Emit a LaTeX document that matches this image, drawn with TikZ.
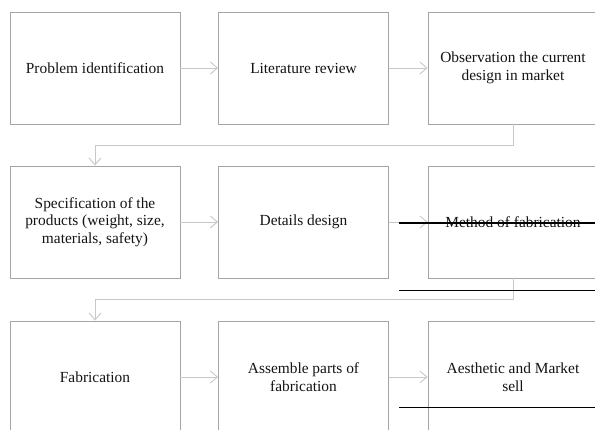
\documentclass[tikz,border=0pt]{standalone}
\usepackage{fontspec}
\setmainfont{Liberation Serif}
\usetikzlibrary{arrows.meta}
\definecolor{boxgray}{RGB}{165,165,165}
\definecolor{arrgray}{RGB}{200,200,200}
\definecolor{txt}{RGB}{20,20,20}
\tikzset{
  stepbox/.style={draw=boxgray, line width=0.9pt, rectangle, minimum width=170pt, minimum height=112pt,
    align=center, text=txt, inner sep=0pt, font=\fontsize{15.4}{17.7}\selectfont},
  arr/.style={draw=arrgray, line width=0.9pt, -{Straight Barb[length=7pt,width=12pt]}},
  blackline/.style={draw=black, line width=1.6pt}
}
\begin{document}
\begin{tikzpicture}[x=1pt,y=-1pt]
\clip (0,0) rectangle (595,430);
\fill[white] (0,0) rectangle (595,430);
\node[stepbox] (b1) at (95,68) {Problem identification};
\node[stepbox] (b2) at (303.5,68) {Literature review};
\node[stepbox] (b3) at (513,68) {Observation the current\\design in market};
\node[stepbox] (b4) at (95,222) {Specification of the\\products (weight, size,\\materials, safety)};
\node[stepbox] (b5) at (303.5,222) {Details design};
\node[stepbox] (b6) at (513,222) {Method of fabrication};
\node[stepbox] (b7) at (95,377) {Fabrication};
\node[stepbox] (b8) at (303.5,377) {Assemble parts of\\fabrication};
\node[stepbox] (b9) at (513,377) {Aesthetic and Market\\sell};
\draw[arr] (b1.east) -- (b2.west);
\draw[arr] (b2.east) -- (b3.west);
\draw[arr] (b3.south) -- ++(0,21) -| (b4.north);
\draw[arr] (b4.east) -- (b5.west);
\draw[arr] (b5.east) -- (b6.west);
\draw[arr] (b6.south) -- ++(0,21) -| (b7.north);
\draw[arr] (b7.east) -- (b8.west);
\draw[arr] (b8.east) -- (b9.west);
\coordinate (l1a) at (399,223); \coordinate (l1b) at (595,223);
\coordinate (l2a) at (399,290.7); \coordinate (l2b) at (595,290.7);
\coordinate (l3a) at (399,407.7); \coordinate (l3b) at (595,407.7);
\draw[blackline] (l1a) -- (l1b);
\draw[blackline] (l2a) -- (l2b);
\draw[blackline] (l3a) -- (l3b);
\end{tikzpicture}
\end{document}
